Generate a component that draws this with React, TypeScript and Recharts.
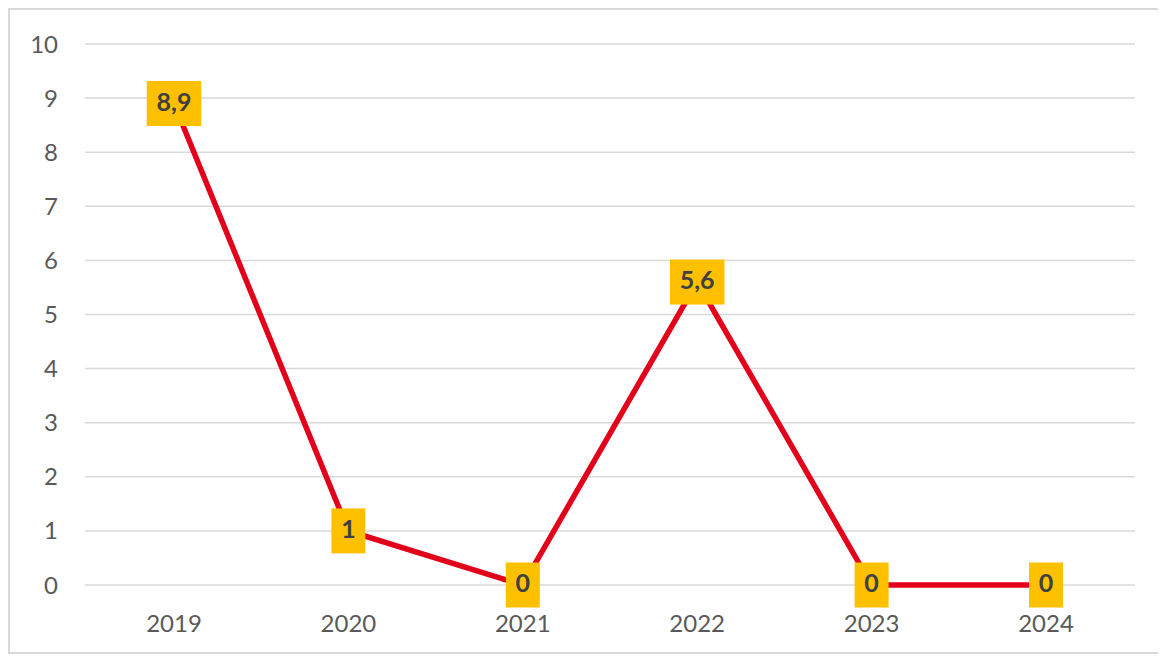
import React from "react";
import { LineChart, Line, XAxis, YAxis, CartesianGrid, LabelList } from "recharts";

const years = ["2019", "2020", "2021", "2022", "2023", "2024"];
const values = [8.9, 1, 0, 5.6, 0, 0];
const yTicks = [0, 1, 2, 3, 4, 5, 6, 7, 8, 9, 10];

const data = years.map((year, i) => ({ year, value: values[i] }));

const FONT = "Lato, 'Open Sans', sans-serif";

const fmt = (v: number) => String(v).replace(".", ",");

function BoxLabel(props: any) {
  const { x, y, value } = props;
  if (x == null || y == null) return null;
  const text = fmt(value);
  let w = 20;
  for (const ch of text) w += ch === "," ? 6.5 : 14;
  const h = 45;
  return (
    <g>
      <rect x={x - w / 2} y={y - h / 2} width={w} height={h} fill="#FFC000" />
      <text
        x={x}
        y={y + 1}
        textAnchor="middle"
        dominantBaseline="middle"
        fontFamily={FONT}
        fontSize={25}
        fontWeight={700}
        fill="#404040"
      >
        {text}
      </text>
    </g>
  );
}

export default function App() {
  return (
    <div
      style={{
        width: 1150,
        height: 642,
        border: "2px solid #d9d9d9",
        background: "#fff",
      }}
    >
      <LineChart
        width={1150}
        height={642}
        data={data}
        margin={{ top: 34, right: 25, left: 0, bottom: 17 }}
      >
        <CartesianGrid vertical={false} stroke="#d9d9d9" strokeWidth={1.5} />
        <XAxis
          dataKey="year"
          axisLine={false}
          tickLine={false}
          tickSize={0}
          tickMargin={30}
          height={50}
          padding={{ left: 89, right: 89 }}
          tick={{ fill: "#595959", fontSize: 24, fontFamily: FONT }}
        />
        <YAxis
          domain={[0, 10]}
          ticks={yTicks}
          width={75}
          axisLine={false}
          tickLine={false}
          tickSize={0}
          tickMargin={27}
          tick={{ fill: "#595959", fontSize: 24, fontFamily: FONT }}
        />
        <Line
          type="linear"
          dataKey="value"
          stroke="#E3001B"
          strokeWidth={5.5}
          dot={false}
          isAnimationActive={false}
        >
          <LabelList dataKey="value" content={<BoxLabel />} />
        </Line>
      </LineChart>
    </div>
  );
}
